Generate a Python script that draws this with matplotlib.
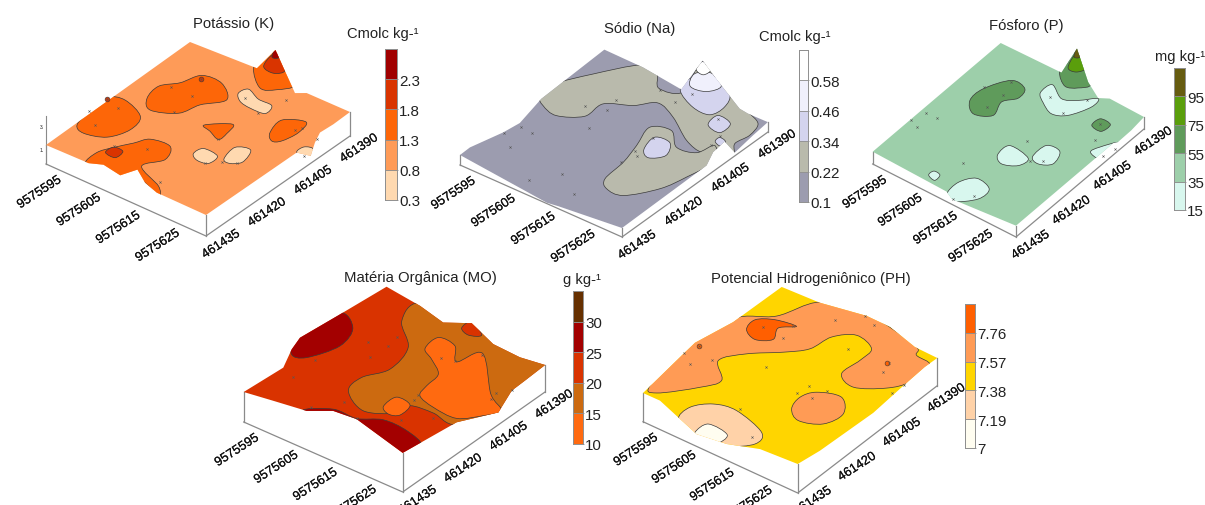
import numpy as np
import matplotlib
matplotlib.use('Agg')
import matplotlib.pyplot as plt
import matplotlib.patheffects as pe
from matplotlib.path import Path
from matplotlib.patches import PathPatch, Polygon

plt.rcParams['font.family'] = ['Liberation Sans', 'DejaVu Sans']

# eixos: percentagem ao longo de cada lado do mapa (u = norte, v = leste)
north_ticks = [9575595, 9575605, 9575615, 9575625]
east_ticks = [461435, 461420, 461405, 461390]
north_start, north_range = 9575592.2, 40.6
east_start, east_range = 461436.4, 46.9

# ---- Potassio
k_levels = [0.3, 0.8, 1.3, 1.8, 2.3, 2.8]
k_labels = ['0.3', '0.8', '1.3', '1.8', '2.3']
k_colors = ['#FFD9B0', '#FE9B58', '#FD6608', '#D93400', '#A00000']
k_surface = [(0, 0), (0, 100), (40.2, 101.8), (37.5, 117.7), (50.5, 108.9), (68.4, 96.9), (72.9, 100), (100, 100),
             (100.2, 88.2), (99.5, 79.7), (103, 72.3), (108.5, 63.2), (101.3, 61.5), (100, 0), (68.8, 0.5), (58.9, 3.4),
             (48.8, 9.3), (45.2, 1.3), (33, 3.3), (26.4, 0.3)]
k_regions = [
    (2, [(1.2, 20.2), (-1.4, 31.3), (-2.1, 44.7), (6.4, 47.9), (21.2, 42), (24.4, 31.3), (19.4, 20.8), (8.2, 17)]),
    (2, [(13.9, 54.7), (11.8, 65.1), (18.3, 72.9), (22.7, 83), (34.7, 83.5), (45.6, 74.8), (38, 64.8), (34.2, 54.1), (21.5, 48.5)]),
    (2, [(38.9, 100.9), (52.2, 90.7), (59.5, 94.1), (63.9, 101.9), (49.1, 112.7), (35.7, 119.7), (36.5, 110.6)]),
    (3, [(41.9, 104.6), (49.3, 103.2), (52.3, 107.9), (42, 116), (38.8, 113.8)]),
    (4, [(40.1, 112.4), (43, 114.4), (36.6, 118.7)]),
    (0, [(46.5, 81.9), (48.3, 87), (57.5, 83.6), (66.2, 83.2), (67.9, 76.7), (59.1, 76), (51.7, 77.4)]),
    (2, [(50.5, 53.7), (61.2, 61.7), (63.9, 54.5), (63.9, 48.7), (56.2, 51.5)]),
    (2, [(80.2, 66.4), (77.9, 77.1), (88.4, 82.4), (91.2, 73.9), (89.2, 64.5), (85.4, 61.9)]),
    (0, [(61.8, 33.7), (63, 39.4), (72.5, 38.5), (73, 31.7), (66.7, 30.6)]),
    (0, [(76.5, 38.6), (74.6, 48.4), (82.1, 50.9), (85.5, 41.6), (81.1, 37.3)]),
    (0, [(101.3, 61.5), (101.1, 66.8), (106, 67.9), (109.4, 59.9)]),
    (2, [(25.1, -0.6), (23.8, 8.9), (27.5, 16.3), (32.9, 24.2), (37.3, 31), (48.9, 31.9), (54.1, 22.6), (48.6, 12.4),
         (65.9, 4.9), (71.3, -1.1), (55.2, 4.1), (47.5, -1.2), (34.4, -0.6)]),
    (3, [(27.1, 11.2), (27.4, 16.5), (33.3, 16.4), (33.7, 10.6)]),
]
k_spots = [(3, -1.5, 43.8), (3, 24.6, 80.4)]
k_samples = [(-2, 31.8), (7.7, 41.1), (8.1, 25.3), (-1.5, 43.8), (17.2, 67.6), (30.2, 68.1), (24.6, 80.4), (31.4, 53.8),
             (51.8, 80.7), (68.4, 90.5), (65, 75.3), (88.7, 74.4), (90.2, 77.4), (63.4, 49.3), (71.4, 31.2), (77.2, 36.2),
             (84.1, 39.4), (101.9, 74.8), (106, 61.4), (64.1, 7.6), (27, 16.9), (41.2, 24.4)]

# ---- Sodio
na_levels = [0.1, 0.22, 0.34, 0.46, 0.58, 0.70]
na_labels = ['0.1', '0.22', '0.34', '0.46', '0.58']
na_colors = ['#9C9CAF', '#B9BAAC', '#D4D4EE', '#F0F0FC', '#FFFFFF']
na_surface = [(0, 0), (-0.2, 7), (4.6, 24.5), (6, 34.3), (1.5, 54), (-0.3, 99.2), (23.6, 99), (49.9, 96.2), (42.9, 118.6),
              (57.6, 111.5), (82.2, 100.3), (88, 99.6), (100, 99.9), (101.3, 88.3), (103.4, 73.5), (93.7, 77.3), (94.9, 68.1),
              (99.4, 58.6), (100, 0), (64.4, -4), (58.1, -5)]
na_regions = [
    (1, [(-0.8, 55.4), (-1.2, 66.2), (8.1, 81.9), (21.7, 99.9), (31.9, 99.4), (40.7, 91), (51.9, 95), (44.2, 114.9),
         (54.1, 115.4), (80.5, 102.2), (87.2, 100.5), (97.1, 96.4), (100, 87.4), (98.7, 78.7), (104.3, 71.4), (92.3, 71),
         (90.5, 65), (78.7, 67.9), (61.3, 77.9), (48.1, 82.2), (40, 74.2), (27.7, 67.3), (27.2, 55.3), (16, 48.2), (5.8, 50.5)]),
    (1, [(67.7, 24.2), (66, 38.6), (62.3, 51.8), (57.7, 65.9), (67.7, 69.7), (78.4, 61.3), (88.9, 63.4), (92, 72.4),
         (100.2, 62.3), (97.9, 46.7), (93.9, 32.9), (83.5, 19.3), (73.6, 18.8)]),
    (2, [(50.1, 95.3), (47.4, 104.4), (54.6, 112.6), (70.5, 106.4), (75.6, 97.2), (74, 88.9), (63.6, 88.9)]),
    (3, [(51.6, 100.4), (46.7, 108.7), (52.6, 113.6), (63.4, 108.6), (60.5, 101.5)]),
    (4, [(45.1, 111.7), (43.4, 118), (50.8, 115.6), (50.6, 110.5)]),
    (2, [(78.6, 82.7), (77.5, 90.7), (86.6, 89.1), (87.2, 81.1)]),
    (2, [(90.1, 74.8), (89.7, 78.3), (94, 77.5), (94.5, 73.5)]),
    (2, [(67.1, 51.5), (64.8, 61.4), (73.5, 62.2), (78.7, 53.7), (73.2, 47.8)]),
]
na_spots = []
na_samples = [(8.3, 32.4), (5.1, 24.4), (16, 31.9), (14.8, 17.7), (34.6, 49.7), (49.2, 15.5), (39.3, 3.6), (64, 7.4),
              (22.2, 61.2), (32.4, 64.9), (30.6, 73.1), (41.9, 90.6), (54, 87), (56.3, 96.5), (79.6, 88.4), (64.7, 60.5),
              (64.7, 47.9), (68.1, 45.8), (64.7, 38.4), (90.8, 71.5), (89, 79.1)]

# ---- Fosforo
p_levels = [15, 35, 55, 75, 95, 115]
p_labels = ['15', '35', '55', '75', '95']
p_colors = ['#D8F7EE', '#9DCFAA', '#5F9B5B', '#5A9E0C', '#665C10']
p_surface = [(0, 0), (0, 100), (41.5, 101), (36, 119.3), (57.9, 103.5), (70.4, 97.3), (75.7, 100.4), (100, 100),
             (101.3, 88.6), (101.5, 78), (100, 76), (100, 0), (58.5, -3.7), (52.5, -1)]
p_regions = [
    (2, [(16, 58), (15.8, 68.6), (23.8, 81.8), (33.8, 81), (35.8, 73.6), (30.5, 66.5), (33.7, 56.3), (24.3, 51.4)]),
    (2, [(40.4, 100.8), (49.8, 94.3), (56.5, 97.1), (60.1, 103.6), (44.4, 115.9), (34, 121), (38.9, 109.1)]),
    (3, [(42, 105.6), (47.6, 105.7), (49.7, 110.8), (40.8, 116.5), (38.4, 114.3)]),
    (4, [(38.9, 113.7), (41.6, 115.5), (35.6, 119.7)]),
    (2, [(81.6, 79.8), (82, 86.1), (89.3, 85.7), (88.7, 79.1)]),
    (0, [(42.6, 83.3), (43.7, 91.4), (54.8, 86.1), (62.9, 90), (70.7, 97), (72.1, 90.2), (66.2, 78.5), (58.2, 74.5), (48.9, 78.4)]),
    (0, [(55.8, 35.1), (56.4, 44), (70.8, 42.2), (70.3, 35.1), (62.1, 31.1)]),
    (0, [(71.9, 44.4), (72.2, 54.9), (81.1, 55.4), (84.5, 46.3), (78, 41.9)]),
    (0, [(94.7, 64.1), (96.2, 69.7), (102.7, 78.2), (107.3, 66.5), (102.5, 62.6)]),
    (0, [(36.2, 3.2), (36.5, 7), (41.1, 6.5), (41.5, 1.9)]),
    (0, [(53.7, -2.3), (52.8, 7.7), (58.7, 15.5), (69.6, 13.1), (70, 4.2), (60.2, -4.9)]),
]
p_spots = []
p_samples = [(15.3, 69.8), (24.8, 80.6), (27.9, 70.8), (26.7, 59.1), (0.2, 29.6), (3.3, 37.9), (10.6, 38), (6.4, 27.1),
             (44.6, 20.3), (61.4, 51.5), (72.7, 41.3), (79, 44.8), (49.2, 83.8), (62.7, 78.5), (66.4, 93.1), (84.9, 82.9),
             (90.4, 72.3), (102, 65.9), (103.5, 73.2), (66.9, 4.5), (59.2, -3.2)]

# ---- Materia organica
mo_levels = [10, 15, 20, 25, 30, 35]
mo_labels = ['10', '15', '20', '25', '30']
mo_colors = ['#FF6A10', '#CC6A10', '#D93300', '#A30000', '#663000']
mo_surface = [(0, 0), (1.9, 25.7), (-4.9, 39.2), (-8.1, 48.6), (-5.6, 72.7), (-2.7, 103.4), (20.8, 100.7), (38.9, 96.7),
              (50.3, 104), (70.1, 97), (87.7, 96.1), (101.7, 98.2), (102.5, 83.1), (102.9, 73.4), (109.7, 56.4), (99, 39),
              (95, 5.6), (58.6, 13.9), (45, 12.6), (34.7, 5.4), (16.3, 2.6)]
mo_regions = [
    (3, [(-2.2, 36.1), (-9.4, 47.7), (-7.1, 74.4), (6.8, 69.1), (11.9, 54.4), (5.4, 38.2)]),
    (3, [(33.4, 4.5), (44.1, 13.7), (58.2, 14.3), (69.3, 20.7), (84.3, 20.4), (98.4, 15.2), (96.2, 3.6), (62.3, 9.8)]),
    (1, [(39.9, 29), (37.6, 40.8), (44, 53.6), (39.1, 71.9), (22, 86.5), (18.9, 102.7), (48.7, 107), (100.8, 100.3),
         (116, 57.6), (100.5, 37.3), (84.9, 38.4), (71.9, 36.6), (70.7, 28.4), (56.6, 20.8)]),
    (2, [(49.1, 98.3), (49.5, 104.8), (60.7, 99.4), (55.6, 95.8)]),
    (0, [(46.2, 75.8), (45.3, 86.2), (56.2, 85.6), (65.7, 76.2), (71.1, 88.4), (96.6, 65.7), (109.9, 58.3), (105.7, 50.4),
         (96.8, 41.4), (81.8, 41.9), (70.2, 45.4), (67.3, 53.4), (65.4, 63.7), (54.6, 71)]),
    (0, [(62, 28.9), (61.9, 38.2), (71.5, 37), (73.1, 28.1), (68.1, 25.6)]),
]
mo_spots = []
mo_samples = [(20.2, 64.6), (30.5, 67.5), (29.3, 75.2), (29.3, 56), (10.1, 38.8), (10.5, 22.7), (44.2, 21.1), (34.1, 9.3),
              (58.2, 14.3), (76.4, 25.4), (87.8, 35.1), (70.4, 41.2), (69.2, 45.4), (57.4, 74.5), (64.8, 76), (71.5, 87.3),
              (98.3, 67.5), (102.5, 73.8), (99.3, 62.6)]

# ---- Potencial hidrogenionico
ph_levels = [7, 7.19, 7.38, 7.57, 7.76, 7.95]
ph_labels = ['7', '7.19', '7.38', '7.57', '7.76']
ph_colors = ['#FFFDF0', '#FFD2A8', '#FFD500', '#FF9B55', '#FF5F00']
ph_surface = [(0, 0), (-1.1, 8.7), (-4.5, 33.9), (-5.7, 43.6), (-1.3, 66), (-0.4, 99.8), (23.3, 100.8), (49.2, 105.7),
              (64.5, 105.5), (85.1, 100.4), (100, 100), (99.7, 91.3), (100.8, 77.2), (103.3, 50.5), (101.9, 13.8), (100, 0),
              (76.9, -1.4), (60.8, -7.4), (43.4, -9.7), (28.7, -5.3), (10.9, 0.1)]
ph_regions = [
    (3, [(-1.1, 6.2), (-6.3, 35.8), (-3.1, 68), (13, 81.3), (23, 101.2), (48, 107), (84.2, 101.4), (90.2, 96), (101, 93.7),
         (101.7, 78.5), (95.5, 68.6), (81.6, 60.2), (69.8, 64.9), (70.1, 77.8), (68.6, 87.7), (55.5, 91.6), (46.3, 83.8),
         (43.8, 71), (34.9, 61.9), (21, 51), (13.1, 39.5), (25, 28.6), (19.9, 18.7), (5.5, 3.7)]),
    (4, [(8, 65.3), (6.3, 73.3), (14.3, 78.7), (26.5, 80.6), (20, 74.7), (24, 66.6), (16.7, 61.7)]),
    (3, [(68.3, 30.8), (65.5, 39.8), (69.5, 47.3), (82.2, 51.1), (91.8, 41.7), (89, 30.4), (77.2, 25.7)]),
    (1, [(28.4, -6.1), (26.5, 4.3), (34.2, 12.5), (47.1, 14.9), (68.6, 8.9), (72.2, 0.3), (61.7, -8.4), (43.6, -11)]),
    (0, [(41.8, -9.1), (42.8, -0.6), (56.2, -1.9), (56.1, -10.5), (46.8, -12.1)]),
]
ph_spots = [(4, -2.5, 43.1), (4, 82.4, 83.8)]
ph_samples = [(-2.5, 43), (-4.6, 34.5), (9.9, 38.2), (3.5, 29.8), (13.3, 71.4), (24.9, 79.6), (27.4, 70.1), (38.5, 94.7),
              (48.7, 105), (57.1, 102.1), (59.3, 80.8), (35.6, 48.3), (83.4, 83.8), (85.7, 77.2), (100.7, 75.2), (100.2, 67),
              (61.8, 41.5), (63.4, 48.6), (73.1, 51), (70.9, 42.7), (47.5, 16.8), (67.3, 3.3)]

# layout de cada painel em pixels da figura
panels = [
    dict(title='Potássio (K)', title_xy=(234, 24), unit='Cmolc kg-¹', unit_xy=(383, 34),
         levels=k_levels, labels=k_labels, colors=k_colors, surface=k_surface, regions=k_regions, spots=k_spots,
         samples=k_samples, base_fill=1, left=(46, 146), bottom=(206, 216), right=(350, 113),
         left_low=(46, 165), bottom_low=(206, 237), right_low=(350, 137), bar=(385, 397, 50, 201)),
    dict(title='Sódio (Na)', title_xy=(640, 29), unit='Cmolc kg-¹', unit_xy=(795, 37),
         levels=na_levels, labels=na_labels, colors=na_colors, surface=na_surface, regions=na_regions, spots=na_spots,
         samples=na_samples, base_fill=0, left=(460, 156), bottom=(622, 229), right=(768, 123),
         left_low=(460, 166), bottom_low=(622, 238), right_low=(768, 133), bar=(799, 808, 51, 203)),
    dict(title='Fósforo (P)', title_xy=(1026, 26), unit='mg kg-¹', unit_xy=(1180, 57),
         levels=p_levels, labels=p_labels, colors=p_colors, surface=p_surface, regions=p_regions, spots=p_spots,
         samples=p_samples, base_fill=1, left=(872.7, 152.7), bottom=(1016, 226.7), right=(1144, 118),
         left_low=(872.7, 165), bottom_low=(1016, 238), right_low=(1144, 130), bar=(1174, 1185, 69, 211)),
    dict(title='Matéria Orgânica (MO)', title_xy=(420, 278), unit='g kg-¹', unit_xy=(582, 280),
         levels=mo_levels, labels=mo_labels, colors=mo_colors, surface=mo_surface, regions=mo_regions, spots=mo_spots,
         samples=mo_samples, base_fill=2, left=(243.7, 393), bottom=(402.7, 463), right=(545, 363),
         left_low=(243.7, 423), bottom_low=(402.7, 493), right_low=(545, 393), bar=(573, 583, 292, 445),
         wall_top=(392.7, 454, 366)),
    dict(title='Potencial Hidrogeniônico (PH)', title_xy=(811, 279), unit=None, unit_xy=None,
         levels=ph_levels, labels=ph_labels, colors=ph_colors, surface=ph_surface, regions=ph_regions, spots=ph_spots,
         samples=ph_samples, base_fill=2, left=(643, 394), bottom=(797.7, 465), right=(937.3, 359),
         left_low=(643, 422.7), bottom_low=(797.7, 494), right_low=(937.3, 386.7), bar=(965, 975, 305, 449)),
]

W, H = 1205, 506
fig = plt.figure(figsize=(W / 100, H / 100), dpi=100)
ax = fig.add_axes([0, 0, 1, 1])
ax.set_xlim(0, W)
ax.set_ylim(H, 0)
ax.axis('off')


def project(pts, p):
    # percentagem do mapa -> pixels da figura
    pts = np.atleast_2d(np.array(pts, dtype=float))
    left, bottom, right = [np.array(p[k]) for k in ('left', 'bottom', 'right')]
    return left + pts[:, [0]] / 100 * (bottom - left) + pts[:, [1]] / 100 * (right - bottom)


def smooth_path(xy):
    # curva fechada de Bezier passando pelos vertices
    n = len(xy)
    verts = [xy[0]]
    codes = [Path.MOVETO]
    for i in range(n):
        p0, p1, p2, p3 = xy[i - 1], xy[i], xy[(i + 1) % n], xy[(i + 2) % n]
        verts += [p1 + (p2 - p0) / 6, p2 - (p3 - p1) / 6, p2]
        codes += [Path.CURVE4, Path.CURVE4, Path.CURVE4]
    return Path(verts, codes)


bold_ish = [pe.withStroke(linewidth=0.12, foreground='#111111')]

for p in panels:
    fills = p['colors']
    # caixa
    base = [p['left_low'], p['bottom_low'], p['right_low']]
    ax.plot(*zip(*base), color='#8a8a8a', lw=0.9, zorder=1)
    tops = p.get('wall_top', (p['left'][1], p['bottom'][1], p['right'][1]))
    for corner, top in zip(base, tops):
        ax.plot([corner[0], corner[0]], [corner[1], top], color='#8a8a8a', lw=0.9, zorder=1)

    surface = Polygon(project(p['surface'], p), closed=True, fc=fills[p['base_fill']], ec='none', zorder=2)
    ax.add_patch(surface)

    for level, pts in p['regions']:
        patch = PathPatch(smooth_path(project(pts, p)), fc=fills[level], ec='#3a3a3a', lw=0.5, zorder=3)
        ax.add_patch(patch)
        patch.set_clip_path(surface)

    for level, u, v in p['spots']:
        xy = project([(u, v)], p)
        ax.scatter(xy[:, 0], xy[:, 1], s=12, color=fills[level], edgecolors='#3a3a3a', linewidths=0.4, zorder=4)

    samples = project(p['samples'], p)
    ax.scatter(samples[:, 0], samples[:, 1], marker='x', s=2.5, color='#555555', linewidths=0.4, zorder=5)

    # rotulos dos eixos
    for n in north_ticks:
        u = (n - north_start) / north_range
        x = p['left_low'][0] + u * (p['bottom_low'][0] - p['left_low'][0])
        y = p['left_low'][1] + u * (p['bottom_low'][1] - p['left_low'][1])
        ax.text(x, y + 5, str(n), rotation=33, rotation_mode='anchor', ha='right', va='top', fontsize=9.2,
                color='#111111', zorder=6, path_effects=bold_ish)
    for e in east_ticks:
        v = (east_start - e) / east_range
        x = p['bottom_low'][0] + v * (p['right_low'][0] - p['bottom_low'][0])
        y = p['bottom_low'][1] + v * (p['right_low'][1] - p['bottom_low'][1])
        ax.text(x + 25, y - 5, str(e), rotation=33, rotation_mode='anchor', ha='right', va='top', fontsize=9.2,
                color='#111111', zorder=6, path_effects=bold_ish)

    ax.text(*p['title_xy'], p['title'], ha='center', va='center', fontsize=10.7, color='#222222')
    if p['unit']:
        ax.text(*p['unit_xy'], p['unit'], ha='center', va='center', fontsize=10.6, color='#222222')

    # barra de cores
    x0, x1, y0, y1 = p['bar']
    cax = fig.add_axes([x0 / W, 1 - y1 / H, (x1 - x0) / W, (y1 - y0) / H])
    levels = p['levels']
    cax.bar(0, np.diff(levels), bottom=levels[:-1], width=1, color=fills, edgecolor='#8f8f8f', linewidth=0.6)
    cax.set_xlim(-0.5, 0.5)
    cax.set_ylim(levels[0], levels[-1])
    cax.set_xticks([])
    cax.yaxis.tick_right()
    cax.set_yticks(levels[:-1], p['labels'], fontsize=10.9, color='#222222')
    cax.tick_params(axis='y', length=1, width=0.6, color='#8f8f8f', pad=0.5)
    for s in cax.spines.values():
        s.set_color('#8f8f8f')
        s.set_linewidth(0.7)

# eixo z pequeno do primeiro painel
k = panels[0]
ax.plot([k['left_low'][0], k['left_low'][0]], [k['left'][1], 117], color='#8a8a8a', lw=0.8, zorder=1)
ax.text(42, 127, '3.', fontsize=3.5, ha='center', va='center', color='#222222')
ax.text(42, 150, '1.', fontsize=3.5, ha='center', va='center', color='#222222')

fig.savefig('out.png', dpi=100)
